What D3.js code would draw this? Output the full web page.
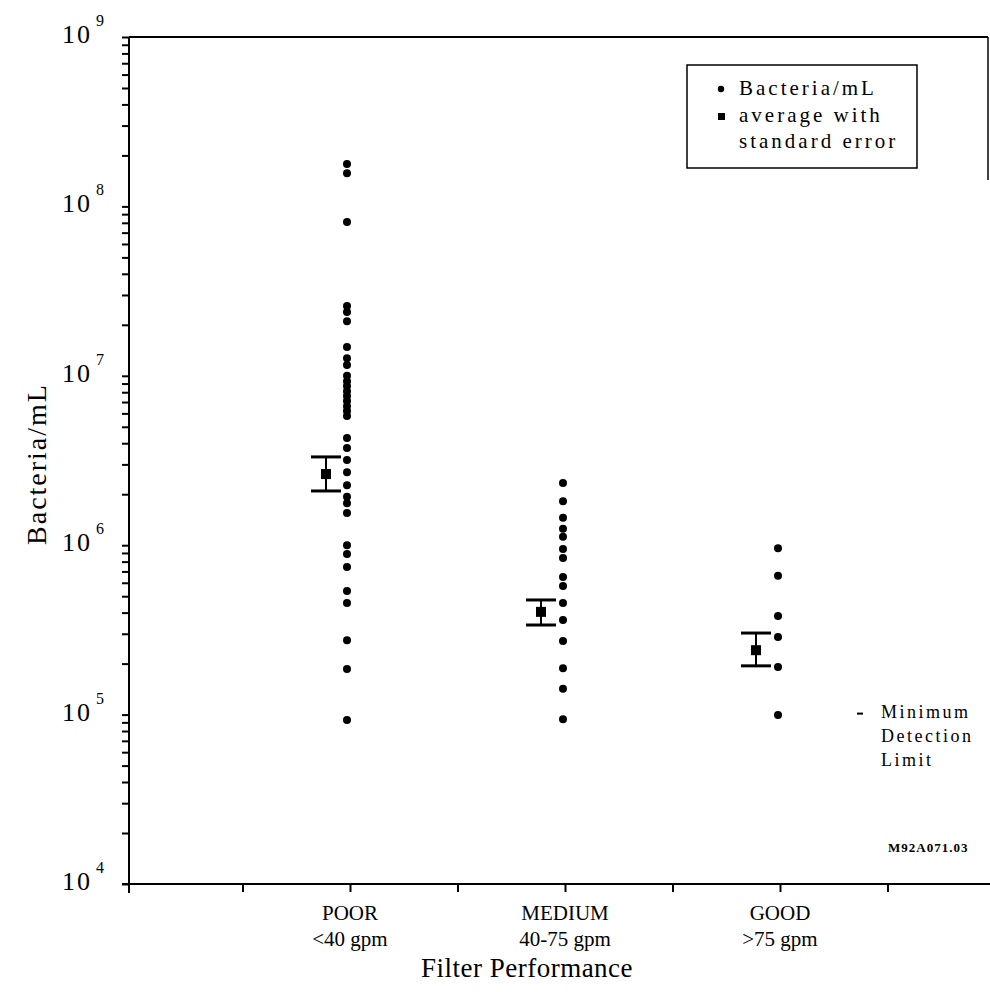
<!DOCTYPE html>
<html>
<head>
<meta charset="utf-8">
<script src="https://cdn.jsdelivr.net/npm/d3@7"></script>
<style>
  body { margin: 0; background: #fff; }
  #container { width: 990px; height: 992px; }
  .axis path, .axis line { stroke: #000; stroke-width: 2; }
  .serif { font-family: "Liberation Serif", "DejaVu Serif", serif; fill: #000; }
</style>
</head>
<body>
<div id="container"></div>
<script>
// categories and their position on the x axis (axis runs 0..8)
const categories = ['POOR', 'MEDIUM', 'GOOD'];
const categorySub = ['<40 gpm', '40-75 gpm', '>75 gpm'];
const categoryPos = [2, 4, 6];

// individual samples, Bacteria/mL
const poorValues = [1.78e8, 1.57e8, 8.1e7, 2.58e7, 2.38e7, 2.1e7, 1.48e7, 1.27e7, 1.16e7,
  1.0e7, 9.3e6, 8.7e6, 8.1e6, 7.6e6, 7.1e6, 6.6e6, 6.2e6, 5.8e6,
  4.3e6, 3.75e6, 3.18e6, 2.7e6, 2.26e6, 1.93e6, 1.77e6, 1.55e6,
  1.0e6, 8.87e5, 7.43e5, 5.37e5, 4.56e5, 2.75e5, 1.86e5, 9.3e4];
const mediumValues = [2.33e6, 1.82e6, 1.45e6, 1.25e6, 1.12e6, 9.5e5, 8.4e5, 6.5e5, 5.74e5,
  4.56e5, 3.62e5, 2.72e5, 1.88e5, 1.42e5, 9.4e4];
const goodValues = [9.6e5, 6.6e5, 3.82e5, 2.87e5, 1.91e5, 9.95e4];

// averages with standard error
const avgValues = [2.63e6, 4.04e5, 2.4e5];
const avgLow = [2.09e6, 3.38e5, 1.94e5];
const avgHigh = [3.32e6, 4.75e5, 3.03e5];

const yDecades = [4, 5, 6, 7, 8, 9];
const xTicks = [1, 2, 3, 4, 5, 6, 7];

document.addEventListener('DOMContentLoaded', function() {
  const width = 990, height = 992;
  const svg = d3.select('#container').append('svg')
    .attr('width', width).attr('height', height);

  const x = d3.scaleLinear().domain([0, 8]).range([135, 995]);
  const y = d3.scaleLog().domain([1e4, 1e9]).range([884, 37]);

  // minor ticks 1..9 in each decade
  const minor = [];
  yDecades.slice(0, -1).forEach(e => {
    for (let k = 1; k < 10; k++) minor.push(k * Math.pow(10, e));
  });
  minor.push(1e9);

  svg.append('g')
    .attr('class', 'axis')
    .attr('transform', 'translate(129,0)')
    .call(d3.axisLeft(y).tickValues(minor).tickSize(7).tickSizeOuter(0).tickFormat(''))
    .select('.domain').attr('d', `M0,${y(1e9)}V893`);

  svg.append('g')
    .attr('class', 'axis')
    .attr('transform', 'translate(0,884)')
    .call(d3.axisBottom(x).tickValues(xTicks).tickSize(8).tickSizeOuter(0).tickFormat(''))
    .select('.domain').attr('d', 'M122,0H990');

  // frame top and right
  svg.append('line').attr('x1', 129).attr('x2', 988).attr('y1', y(1e9)).attr('y2', y(1e9))
    .attr('stroke', '#000').attr('stroke-width', 2);
  svg.append('line').attr('x1', 988).attr('x2', 988).attr('y1', y(1e9)).attr('y2', 180)
    .attr('stroke', '#000').attr('stroke-width', 1.5);

  // decade labels 10^n
  const lab = svg.append('g').selectAll('text').data(yDecades).enter().append('text')
    .attr('class', 'serif')
    .attr('x', 62)
    .attr('y', d => y(Math.pow(10, d)) + 6)
    .style('font-size', '26px');
  lab.append('tspan').style('letter-spacing', '2px').text('10');
  lab.append('tspan').attr('dx', 4).attr('dy', -17).style('font-size', '16px').text(d => d);

  // axis titles
  svg.append('text').attr('class', 'serif')
    .attr('transform', 'translate(46,464) rotate(-90)')
    .attr('text-anchor', 'middle')
    .style('font-size', '28px').style('letter-spacing', '2px')
    .text('Bacteria/mL');

  svg.append('text').attr('class', 'serif')
    .attr('x', 527).attr('y', 977)
    .attr('text-anchor', 'middle')
    .style('font-size', '27px').style('letter-spacing', '0.5px')
    .text('Filter Performance');

  // category labels
  const cat = svg.append('g').selectAll('text').data(categories).enter().append('text')
    .attr('class', 'serif')
    .attr('text-anchor', 'middle')
    .style('font-size', '21px');
  cat.append('tspan').attr('x', (d, i) => x(categoryPos[i])).attr('y', 920).text(d => d);
  cat.append('tspan').attr('x', (d, i) => x(categoryPos[i])).attr('y', 946).text((d, i) => categorySub[i]);

  // sample dots
  const groups = [poorValues, mediumValues, goodValues];
  groups.forEach((vals, i) => {
    svg.append('g').selectAll('circle').data(vals).enter().append('circle')
      .attr('cx', x(categoryPos[i]) - (i === 0 ? 3 : 2))
      .attr('cy', d => y(d))
      .attr('r', 4)
      .attr('fill', '#000');
  });

  // averages with standard error
  const avg = svg.append('g').selectAll('g').data(avgValues).enter().append('g')
    .attr('transform', (d, i) => `translate(${x(categoryPos[i]) - 24},0)`);
  avg.append('line').attr('x1', 0).attr('x2', 0)
    .attr('y1', (d, i) => y(avgHigh[i])).attr('y2', (d, i) => y(avgLow[i]))
    .attr('stroke', '#000').attr('stroke-width', 2);
  ['high', 'low'].forEach(k => {
    avg.append('line').attr('x1', -15).attr('x2', 15)
      .attr('y1', (d, i) => y(k === 'high' ? avgHigh[i] : avgLow[i]))
      .attr('y2', (d, i) => y(k === 'high' ? avgHigh[i] : avgLow[i]))
      .attr('stroke', '#000').attr('stroke-width', 3);
  });
  avg.append('rect').attr('x', -5).attr('y', d => y(d) - 5)
    .attr('width', 10).attr('height', 10).attr('fill', '#000');

  // legend
  const leg = svg.append('g');
  leg.append('rect').attr('x', 687).attr('y', 65).attr('width', 230).attr('height', 103)
    .attr('fill', 'none').attr('stroke', '#000').attr('stroke-width', 1.5);
  leg.append('circle').attr('cx', 721).attr('cy', 89).attr('r', 3.2).attr('fill', '#000');
  leg.append('rect').attr('x', 718).attr('y', 113).attr('width', 7).attr('height', 7).attr('fill', '#000');
  const legText = ['Bacteria/mL', 'average with', 'standard error'];
  leg.selectAll('text').data(legText).enter().append('text')
    .attr('class', 'serif')
    .attr('x', 739).attr('y', (d, i) => [95, 122, 148][i])
    .style('font-size', '21px').style('letter-spacing', '3px')
    .text(d => d);

  // minimum detection limit note
  svg.append('line').attr('x1', 857).attr('x2', 863).attr('y1', y(1e5) - 1).attr('y2', y(1e5) - 1)
    .attr('stroke', '#000').attr('stroke-width', 2);
  svg.append('g').selectAll('text').data(['Minimum', 'Detection', 'Limit']).enter().append('text')
    .attr('class', 'serif')
    .attr('x', 881).attr('y', (d, i) => 718 + i * 24)
    .style('font-size', '18px').style('letter-spacing', '2.5px')
    .text(d => d);

  svg.append('text').attr('class', 'serif')
    .attr('x', 888).attr('y', 852)
    .style('font-size', '13px').style('font-weight', 'bold').style('letter-spacing', '1px')
    .text('M92A071.03');
});
</script>
</body>
</html>
